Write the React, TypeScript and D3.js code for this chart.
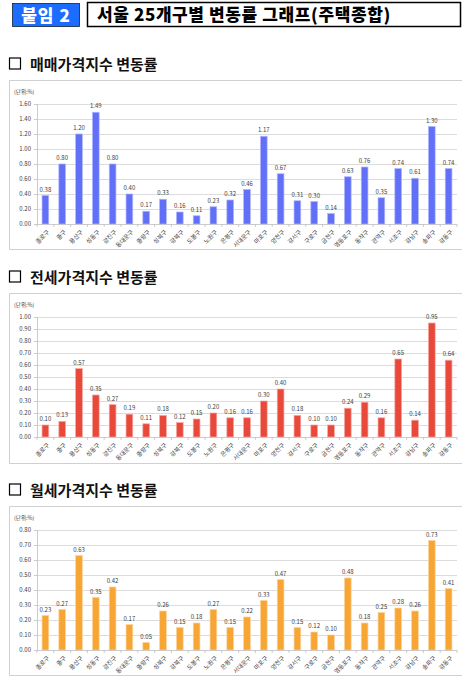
import React from "react";
import * as d3 from "d3";

const districts = [
  "종로구", "중구", "용산구", "성동구", "광진구", "동대문구", "중랑구", "성북구", "강북구", "도봉구",
  "노원구", "은평구", "서대문구", "마포구", "양천구", "강서구", "구로구", "금천구", "영등포구", "동작구",
  "관악구", "서초구", "강남구", "송파구", "강동구",
];

const saleValues = [
  0.38, 0.8, 1.2, 1.49, 0.8, 0.4, 0.17, 0.33, 0.16, 0.11,
  0.23, 0.32, 0.46, 1.17, 0.67, 0.31, 0.3, 0.14, 0.63, 0.76,
  0.35, 0.74, 0.61, 1.3, 0.74,
];
const jeonseValues = [
  0.1, 0.13, 0.57, 0.35, 0.27, 0.19, 0.11, 0.18, 0.12, 0.15,
  0.2, 0.16, 0.16, 0.3, 0.4, 0.18, 0.1, 0.1, 0.24, 0.29,
  0.16, 0.65, 0.14, 0.95, 0.64,
];
const monthlyValues = [
  0.23, 0.27, 0.63, 0.35, 0.42, 0.17, 0.05, 0.26, 0.15, 0.18,
  0.27, 0.15, 0.22, 0.33, 0.47, 0.15, 0.12, 0.1, 0.48, 0.18,
  0.25, 0.28, 0.26, 0.73, 0.41,
];

const saleTicks = [0, 0.2, 0.4, 0.6, 0.8, 1.0, 1.2, 1.4, 1.6];
const jeonseTicks = [0, 0.1, 0.2, 0.3, 0.4, 0.5, 0.6, 0.7, 0.8, 0.9, 1.0];
const monthlyTicks = [0, 0.1, 0.2, 0.3, 0.4, 0.5, 0.6, 0.7, 0.8];

const headerLabel = "붙임 2";
const headerTitle = "서울 25개구별 변동률 그래프(주택종합)";
const sectionTitles = ["매매가격지수 변동률", "전세가격지수 변동률", "월세가격지수 변동률"];
const unitLabel = "(단위:%)";

const FONT = "'Noto Sans CJK KR', 'Noto Sans', sans-serif";
const PLOT_X0 = 37;
const PLOT_X1 = 457;

type ChartProps = {
  values: number[];
  ticks: number[];
  color: string;
  edge: string;
  title: string;
  titleY: number;
  frameTop: number;
  frameBottom: number;
  plotTop: number;
  plotBottom: number;
};

function BarChart(p: ChartProps) {
  const x = d3.scaleBand<string>().domain(districts).range([PLOT_X0, PLOT_X1]).paddingInner(0.6).paddingOuter(0.3);
  const y = d3.scaleLinear().domain([0, d3.max(p.ticks) as number]).range([p.plotBottom, p.plotTop]);
  const step = x.step();
  const bw = x.bandwidth();
  return (
    <g>
      <rect x={9.5} y={p.titleY - 12} width={11} height={11} fill="none" stroke="#000" strokeWidth={1.2} />
      <text x={30} y={p.titleY} fontFamily={FONT} fontWeight={700} fontSize={15} fill="#111">
        {p.title}
      </text>
      <path
        d={`M462,${p.frameTop + 0.5}H9.5V${p.frameBottom + 0.5}H462`}
        fill="none"
        stroke="#d0d0d0"
        strokeWidth={1}
      />
      <text x={14} y={p.frameTop + 14} fontFamily={FONT} fontSize={5.5} fill="#404040">
        {unitLabel}
      </text>
      {p.ticks.map((t) => (
        <g key={t}>
          {t > 0 && (
            <line x1={PLOT_X0} x2={PLOT_X1} y1={y(t) + 0.5} y2={y(t) + 0.5} stroke="#dcdcdc" strokeWidth={1} />
          )}
          <line x1={PLOT_X0 - 3} x2={PLOT_X0} y1={y(t) + 0.5} y2={y(t) + 0.5} stroke="#bfbfbf" strokeWidth={0.8} />
          <text
            x={PLOT_X0 - 6}
            y={y(t) + 2}
            textAnchor="end"
            fontFamily={FONT}
            fontSize={6}
            fill="#404040"
          >
            {t.toFixed(2)}
          </text>
        </g>
      ))}
      {p.values.map((v, i) => {
        const cx = (x(districts[i]) as number) + bw / 2;
        return (
          <g key={districts[i]}>
            <rect
              x={cx - bw / 2}
              y={y(v)}
              width={bw}
              height={p.plotBottom - y(v)}
              fill={p.color}
              stroke={p.edge}
              strokeWidth={0.7}
            />
            <text
              x={cx}
              y={y(v) - 4}
              textAnchor="middle"
              fontFamily={FONT}
              fontSize={6}
              fill="#404040"
            >
              {v.toFixed(2)}
            </text>
          </g>
        );
      })}
      <line x1={PLOT_X0 + 0.5} x2={PLOT_X0 + 0.5} y1={p.plotTop} y2={p.plotBottom} stroke="#bfbfbf" strokeWidth={0.8} />
      <line x1={PLOT_X0} x2={PLOT_X1} y1={p.plotBottom + 0.5} y2={p.plotBottom + 0.5} stroke="#bfbfbf" strokeWidth={0.8} />
      {d3.range(districts.length + 1).map((k) => {
        const tx = PLOT_X0 + k * step;
        return (
          <line key={k} x1={tx} x2={tx} y1={p.plotBottom} y2={p.plotBottom + 3} stroke="#bfbfbf" strokeWidth={0.8} />
        );
      })}
      {districts.map((d) => {
        const cx = (x(d) as number) + bw / 2 + 3;
        const ty = p.plotBottom + 7;
        return (
          <text
            key={d}
            transform={`translate(${cx},${ty}) rotate(-45)`}
            textAnchor="end"
            dy="0.35em"
            fontFamily={FONT}
            fontSize={6}
            fill="#404040"
          >
            {d}
          </text>
        );
      })}
    </g>
  );
}

export default function App() {
  return (
    <div style={{ position: "absolute", left: 0, top: 0, width: 474, height: 696, background: "#fff" }}>
      <svg width={474} height={696} viewBox="0 0 474 696" style={{ display: "block" }}>
        <rect x={0} y={0} width={474} height={696} fill="#fff" />
        <rect x={12.5} y={3.5} width={67} height={23} fill="#1b6cff" stroke="#123" strokeWidth={0.8} />
        <text
          x={46}
          y={21.5}
          textAnchor="middle"
          fontFamily={FONT}
          fontWeight={900}
          fontSize={17}
          letterSpacing={1}
          fill="#fff"
        >
          {headerLabel}
        </text>
        <rect x={87.5} y={2.5} width={373} height={24} fill="#fff" stroke="#000" strokeWidth={1.5} />
        <text
          x={97}
          y={21}
          fontFamily={FONT}
          fontWeight={900}
          fontSize={17}
          letterSpacing={0.6}
          fill="#000"
        >
          {headerTitle}
        </text>

        <BarChart
          values={saleValues}
          ticks={saleTicks}
          color="#6270f8"
          edge="#b0b6ff"
          title={sectionTitles[0]}
          titleY={70}
          frameTop={80}
          frameBottom={249}
          plotTop={104}
          plotBottom={224}
        />
        <BarChart
          values={jeonseValues}
          ticks={jeonseTicks}
          color="#e8493b"
          edge="#f4a8a0"
          title={sectionTitles[1]}
          titleY={283}
          frameTop={293}
          frameBottom={463}
          plotTop={317}
          plotBottom={437}
        />
        <BarChart
          values={monthlyValues}
          ticks={monthlyTicks}
          color="#f7a535"
          edge="#fcd49c"
          title={sectionTitles[2]}
          titleY={496}
          frameTop={506}
          frameBottom={675}
          plotTop={530}
          plotBottom={650}
        />
      </svg>
    </div>
  );
}
